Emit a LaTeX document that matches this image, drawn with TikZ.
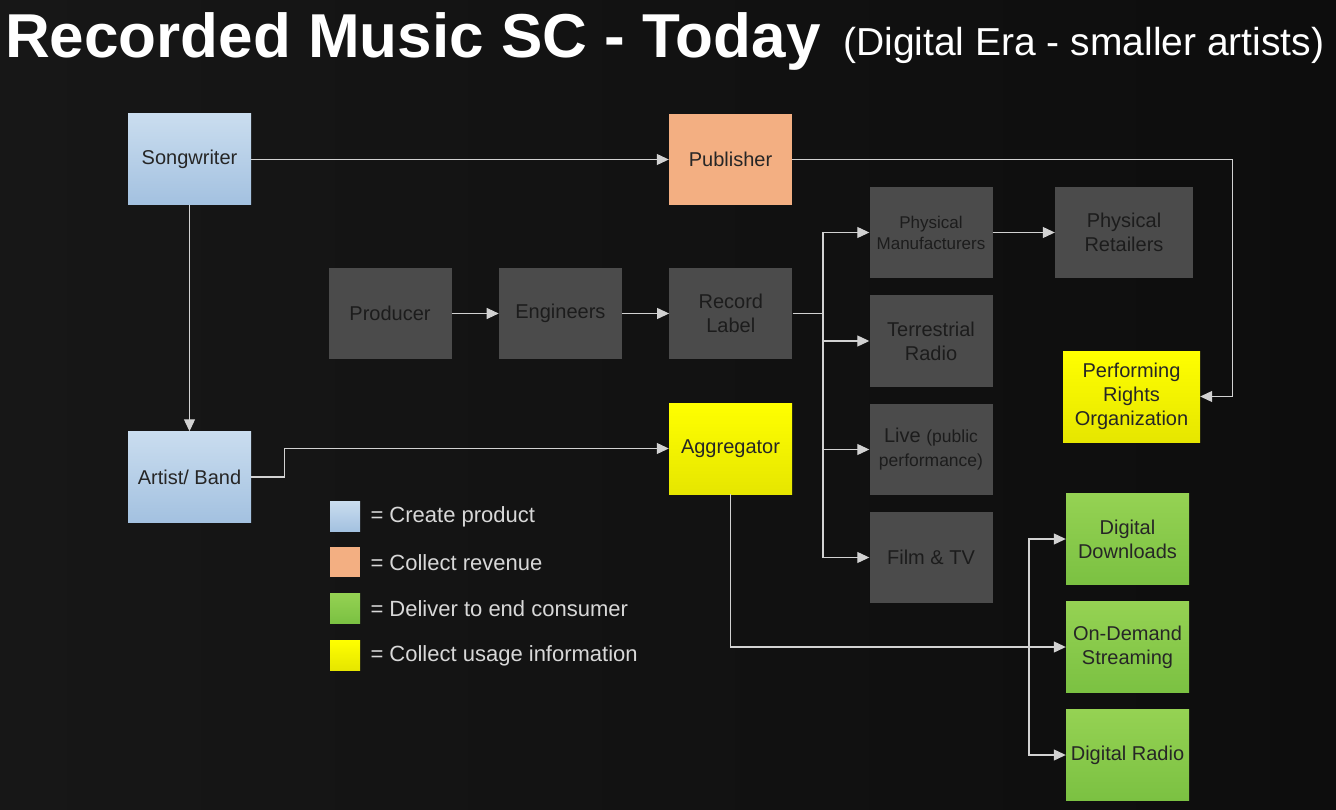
\documentclass[tikz,border=0pt]{standalone}
\usepackage{fontspec}
\setmainfont{Liberation Sans}
\usetikzlibrary{positioning,arrows.meta}

\definecolor{bgdark}{HTML}{171717}
\definecolor{bgdeep}{HTML}{0D0D0D}
\definecolor{linegrey}{HTML}{D2D2D2}
\definecolor{boxgrey}{HTML}{4B4B4B}
\definecolor{txtgrey}{HTML}{1C1C1C}
\definecolor{blueTop}{HTML}{CADDEF}
\definecolor{blueBot}{HTML}{A3C1E0}
\definecolor{orangeFill}{HTML}{F3AF82}
\definecolor{yellowTop}{HTML}{FFFF00}
\definecolor{yellowBot}{HTML}{E6E600}
\definecolor{greenTop}{HTML}{95D253}
\definecolor{greenBot}{HTML}{7BC142}
\definecolor{keytxt}{HTML}{D8D8D8}

\newcommand{\smallpart}[1]{{\fontsize{17.5}{25}\selectfont #1}}

\tikzset{
  box/.style={rectangle, minimum width=123pt, minimum height=91pt, inner sep=2pt,
    align=center, text=txtgrey, font=\fontsize{20}{24}\selectfont},
  createbox/.style={box, top color=blueTop, bottom color=blueBot, text=black!85},
  revenuebox/.style={box, fill=orangeFill, text=black!85},
  stagebox/.style={box, fill=boxgrey},
  usagebox/.style={box, top color=yellowTop, bottom color=yellowBot, text=black!85},
  deliverbox/.style={box, top color=greenTop, bottom color=greenBot, text=black!85},
  flow/.style={draw=linegrey, line width=1.1pt, -{Triangle[length=12pt,width=11pt]}},
  plain/.style={draw=linegrey, line width=1.1pt},
  keybox/.style={rectangle, minimum size=30pt, inner sep=0pt},
  keytext/.style={anchor=west, text=keytxt, font=\fontsize{22}{24}\selectfont}
}

\begin{document}
\begin{tikzpicture}[x=1pt, y=-1pt, node distance=47pt]
  \useasboundingbox (0,0) rectangle (1336,810);
  \shade[left color=bgdark, right color=bgdeep] (0,0) rectangle (1336,810);

  % title
  \node[anchor=base west, inner sep=0pt, text=white, font=\bfseries\fontsize{62}{62}\selectfont]
    (title) at (5,58) {Recorded Music SC - Today};
  \node[anchor=base west, inner sep=0pt, text=white, font=\fontsize{39}{40}\selectfont]
    (subtitle) at (843,56) {(Digital Era - smaller artists)};

  % creators
  \node[createbox] (songwriter) at (189.5,159.5) {Songwriter};
  \node[createbox] (artist) at (189.5,477) {Artist/ Band};
  \node[revenuebox] (publisher) at (730.5,159.5) {Publisher};

  % studio chain
  \node[stagebox] (producer) at (390,313.5) {Producer};
  \node[stagebox, right=of producer] (engineers) {Engineers};
  \node[stagebox, right=of engineers] (label) {Record\\Label};

  % outlets of the label
  \node[stagebox, font=\fontsize{17}{21}\selectfont] (physman) at (931,232.5) {Physical\\Manufacturers};
  \node[stagebox, minimum width=138pt] (retailers) at (1124,232.5) {Physical\\Retailers};
  \node[stagebox] (terrestrial) at (931,341) {Terrestrial\\Radio};
  \node[stagebox] (live) at (931,449.5) {Live \smallpart{(public}\\\smallpart{performance)}};
  \node[stagebox] (film) at (931,557.5) {Film \& TV};

  % usage collection
  \node[usagebox, minimum width=137pt] (pro) at (1131.5,396.5) {Performing\\Rights\\Organization};
  \node[usagebox] (aggregator) at (730.5,448.5) {Aggregator};

  % digital delivery
  \node[deliverbox] (downloads) at (1127.5,539) {Digital\\Downloads};
  \node[deliverbox] (streaming) at (1127.5,647) {On-Demand\\Streaming};
  \node[deliverbox] (radio) at (1127.5,755) {Digital Radio};

  % connectors
  \draw[flow] (songwriter) -- (publisher);
  \draw[flow] (songwriter) -- (artist);
  \draw[flow] (publisher.east) -- ++(440,0) |- (pro.east);
  \draw[flow] (producer) -- (engineers);
  \draw[flow] (engineers) -- (label);
  \coordinate (labelbus) at (823,313.5);
  \draw[plain] (label.east) -- (labelbus);
  \foreach \dest in {physman,terrestrial,live,film}
    \draw[flow] (labelbus) |- (\dest.west);
  \draw[flow] (physman) -- (retailers);
  \draw[flow] (artist.east) -- ++(33,0) |- (aggregator.west);
  \draw[flow] (aggregator.south) |- (streaming.west);
  \coordinate (digbus) at (1029,647);
  \draw[flow] (digbus) |- (downloads.west);
  \draw[flow] (digbus) |- (radio.west);

  % legend
  \node[keybox, top color=blueTop, bottom color=blueBot] (keycreate) at (345,516) {};
  \node[keybox, fill=orangeFill] (keyrevenue) at (345,562) {};
  \node[keybox, top color=greenTop, bottom color=greenBot] (keydeliver) at (345,608) {};
  \node[keybox, top color=yellowTop, bottom color=yellowBot] (keyusage) at (345,655) {};
  \node[keytext] at (367,517) {= Create product};
  \node[keytext] at (367,563) {= Collect revenue};
  \node[keytext] at (367,609) {= Deliver to end consumer};
  \node[keytext] at (367,656) {= Collect usage information};
\end{tikzpicture}
\end{document}
